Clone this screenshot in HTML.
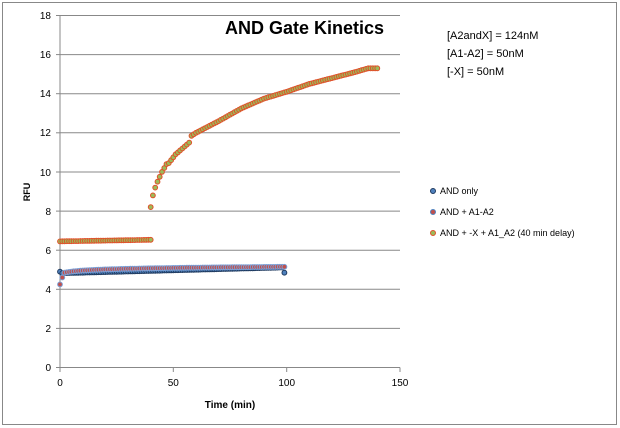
<!DOCTYPE html>
<html><head><meta charset="utf-8"><style>
body{margin:0;background:#fff}
svg{display:block;font-family:"Liberation Sans",sans-serif}
</style></head><body>
<svg id="s" width="620" height="428" xmlns="http://www.w3.org/2000/svg">
<rect x="2.5" y="2.5" width="614" height="422" fill="#fff" stroke="#888"/>
<g stroke="#888" stroke-width="1">
<line x1="60" y1="15.5" x2="400" y2="15.5"/>
<line x1="60" y1="54.6" x2="400" y2="54.6"/>
<line x1="60" y1="93.7" x2="400" y2="93.7"/>
<line x1="60" y1="132.8" x2="400" y2="132.8"/>
<line x1="60" y1="172" x2="400" y2="172"/>
<line x1="60" y1="211.1" x2="400" y2="211.1"/>
<line x1="60" y1="250.2" x2="400" y2="250.2"/>
<line x1="60" y1="289.3" x2="400" y2="289.3"/>
<line x1="60" y1="328.4" x2="400" y2="328.4"/>
<line x1="60" y1="367.5" x2="400" y2="367.5"/>
<line x1="60" y1="15.5" x2="60" y2="367.5"/>
<line x1="56" y1="15.5" x2="60" y2="15.5"/><line x1="56" y1="54.6" x2="60" y2="54.6"/><line x1="56" y1="93.7" x2="60" y2="93.7"/><line x1="56" y1="132.8" x2="60" y2="132.8"/><line x1="56" y1="172" x2="60" y2="172"/><line x1="56" y1="211.1" x2="60" y2="211.1"/><line x1="56" y1="250.2" x2="60" y2="250.2"/><line x1="56" y1="289.3" x2="60" y2="289.3"/><line x1="56" y1="328.4" x2="60" y2="328.4"/><line x1="56" y1="367.5" x2="60" y2="367.5"/>
<line x1="60" y1="367.5" x2="60" y2="372"/><line x1="173.3" y1="367.5" x2="173.3" y2="372"/><line x1="286.7" y1="367.5" x2="286.7" y2="372"/><line x1="400" y1="367.5" x2="400" y2="372"/>
</g>
<g font-size="10" fill="#000" text-anchor="end">
<text x="51" y="19">18</text><text x="51" y="58">16</text><text x="51" y="97">14</text><text x="51" y="136">12</text><text x="51" y="176">10</text><text x="51" y="215">8</text><text x="51" y="254">6</text><text x="51" y="293">4</text><text x="51" y="332">2</text><text x="51" y="371">0</text>
</g>
<g font-size="10" text-anchor="middle">
<text x="60" y="386">0</text><text x="173.3" y="386">50</text><text x="286.7" y="386">100</text><text x="400" y="386">150</text>
</g>
<text x="230" y="408" font-size="10" font-weight="bold" text-anchor="middle">Time (min)</text>
<text transform="translate(30,192) rotate(-90)" font-size="9" font-weight="bold" text-anchor="middle">RFU</text>
<text x="225" y="34" font-size="18" font-weight="bold">AND Gate Kinetics</text>
<g font-size="11"><text x="447" y="39">[A2andX] = 124nM</text><text x="447" y="57">[A1-A2] = 50nM</text><text x="447" y="75">[-X] = 50nM</text></g>
<g font-size="9">
<circle cx="433" cy="191" r="2.5" fill="#4f81bd" stroke="#1f3a5f"/><text x="440" y="194">AND only</text>
<circle cx="433" cy="212" r="2.5" fill="#c0504d" stroke="#4f81bd"/><text x="440" y="215">AND + A1-A2</text>
<circle cx="433" cy="233" r="2.5" fill="#9bbb59" stroke="#e0502a"/><text x="440" y="236">AND + -X + A1_A2 (40 min delay)</text>
</g>
<g id="d"></g>
</svg>
<script>
var g=document.getElementById('d'),h='';
function X(t){return 60+t*340/150}function Y(v){return 367.5-v*19.556}
function c(t,v,f,s){h+='<circle cx="'+X(t).toFixed(1)+'" cy="'+Y(v).toFixed(1)+'" r="2.4" fill="'+f+'" stroke="'+s+'" stroke-width="1"/>';}
for(var t=0;t<=99;t++){c(t,t==0?4.9:(t==99?4.85:4.82+0.003*t),'#4f81bd','#1f3a5f');}
for(var t=0;t<=99;t++){var v=t==0?4.25:(t==1?4.6:4.75+0.4*Math.log(1+t)/Math.log(100));c(t,v,'#c0504d','#7ba0d6');}
for(var t=0;t<=40;t++){c(t,6.45+0.002*t,'#9bbb59','#e0502a');}
var pts=[[40,8.2],[41,8.8],[42,9.2],[43,9.5],[44,9.75],[45,10],[46,10.2],[47,10.4],[48,10.45],[50,10.75],[51,10.9],[52,11],[53,11.1],[54,11.2],[55,11.3],[56,11.4],[57,11.5],[58,11.85],[60,12],[65,12.3],[70,12.6],[80,13.25],[90,13.75],[100,14.1],[110,14.5],[120,14.8],[130,15.1],[136,15.3],[140,15.3]];
for(var t=40;t<=140;t++){for(var i=0;i<pts.length-1;i++){if(t>=pts[i][0]&&t<=pts[i+1][0]){var a=pts[i],b=pts[i+1];c(t,a[1]+(b[1]-a[1])*(t-a[0])/(b[0]-a[0]),'#9bbb59','#e0502a');break;}}}
g.innerHTML=h;
</script>
</body></html>
